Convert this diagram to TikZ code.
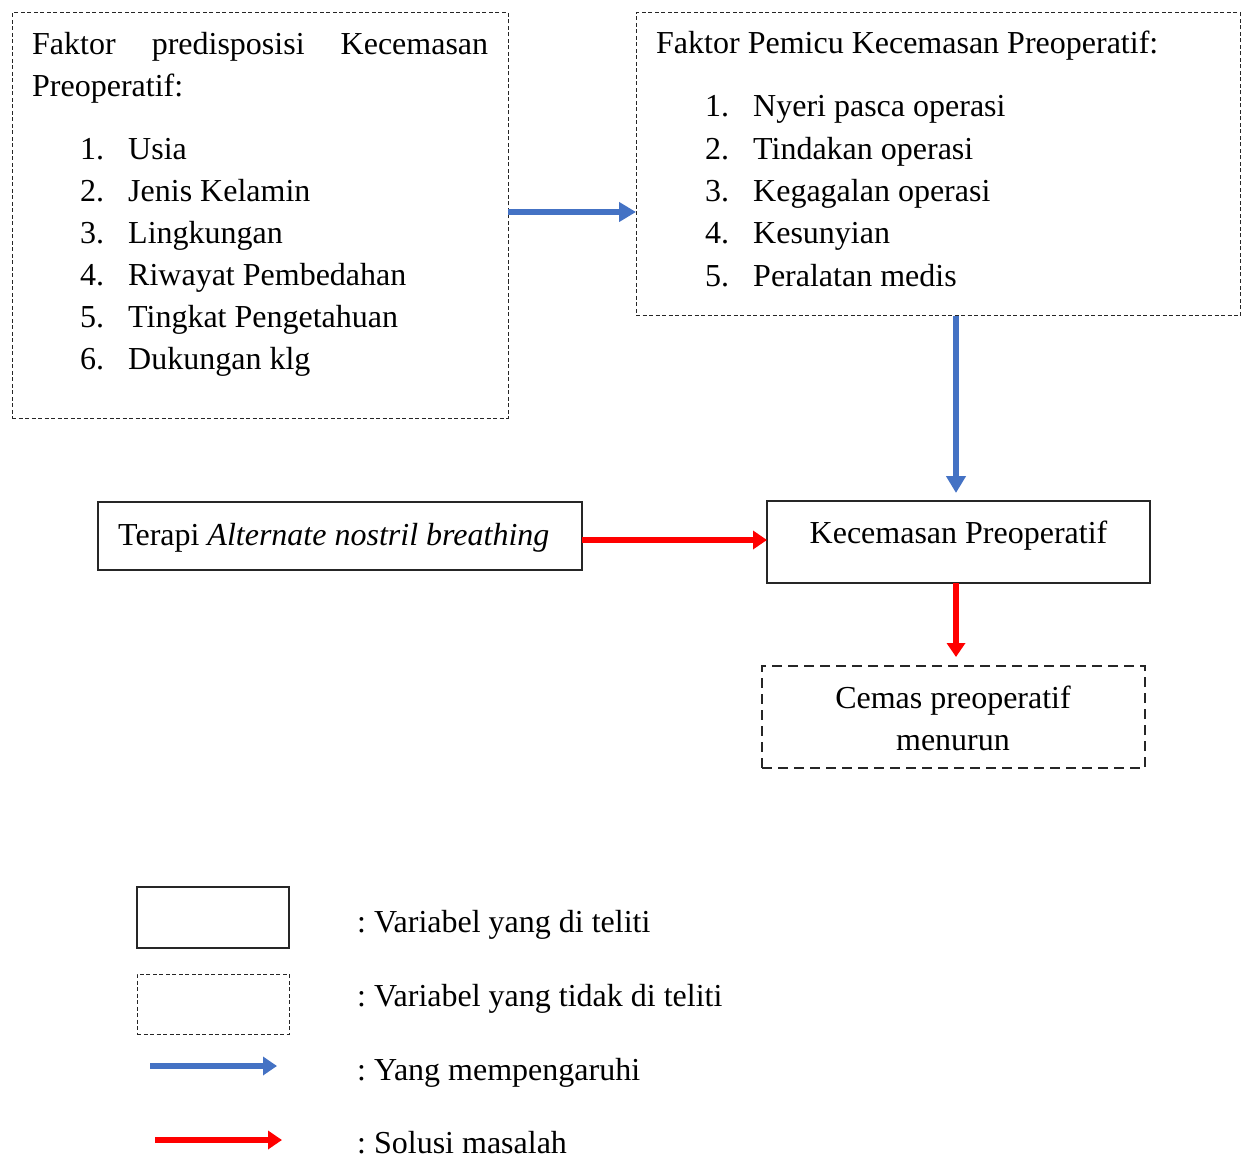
\documentclass[tikz,border=0pt]{standalone}
\usepackage{fontspec}
\setmainfont{Liberation Serif}
\usetikzlibrary{arrows.meta}
\definecolor{ablue}{HTML}{4472C4}
\definecolor{ared}{HTML}{FF0000}
\frenchspacing
\begin{document}
\begin{tikzpicture}[x=1pt,y=-1pt,font=\fontsize{32}{42}\selectfont\frenchspacing,
  box/.style={draw=black!85,line width=1.2pt,inner sep=0pt,outer sep=0pt,rectangle},
  dbox/.style={box,line width=1pt,dash pattern=on 4pt off 2.5pt},
  ddbox/.style={box,line width=2pt,dash pattern=on 10pt off 6pt},
  txt/.style={anchor=base west,inner sep=0pt},
  ctxt/.style={anchor=base,inner sep=0pt},
  barrow/.style={draw=ablue,line width=6pt,-{Triangle[length=17pt,width=19pt]}},
  rarrow/.style={draw=ared,line width=6pt,-{Triangle[length=14pt,width=18pt]}}]
\useasboundingbox (0,0) rectangle (1248,1158);
% boxes
\node[dbox,minimum width=496pt,minimum height=405pt] (b1) at (260,215.5) {};
\node[dbox,minimum width=604pt,minimum height=303pt] (b2) at (938,164.5) {};
\node[box,minimum width=484pt,minimum height=68pt] (b3) at (340,536) {};
\node[box,minimum width=383pt,minimum height=82pt] (b4) at (958.5,542) {};
\node[ddbox,minimum width=383pt,minimum height=102pt] (b5) at (953.5,717) {};
% box 1 text
\node[txt] (t1a) at (32,55) {\makebox[456pt][s]{Faktor predisposisi Kecemasan}};
\node[txt] (t1b) at (32,97) {Preoperatif:};
\node[txt] (n11) at (80,160) {1.}; \node[txt] (i11) at (128,160) {Usia};
\node[txt] (n12) at (80,202) {2.}; \node[txt] (i12) at (128,202) {Jenis Kelamin};
\node[txt] (n13) at (80,244) {3.}; \node[txt] (i13) at (128,244) {Lingkungan};
\node[txt] (n14) at (80,286) {4.}; \node[txt] (i14) at (128,286) {Riwayat Pembedahan};
\node[txt] (n15) at (80,328) {5.}; \node[txt] (i15) at (128,328) {Tingkat Pengetahuan};
\node[txt] (n16) at (80,370) {6.}; \node[txt] (i16) at (128,370) {Dukungan klg};
% box 2 text
\node[txt] (t2) at (656,54) {Faktor Pemicu Kecemasan Preoperatif:};
\node[txt] (n21) at (705,117) {1.}; \node[txt] (i21) at (753,117) {Nyeri pasca operasi};
\node[txt] (n22) at (705,160) {2.}; \node[txt] (i22) at (753,160) {Tindakan operasi};
\node[txt] (n23) at (705,202) {3.}; \node[txt] (i23) at (753,202) {Kegagalan operasi};
\node[txt] (n24) at (705,244) {4.}; \node[txt] (i24) at (753,244) {Kesunyian};
\node[txt] (n25) at (705,287) {5.}; \node[txt] (i25) at (753,287) {Peralatan medis};
% other texts
\node[txt] (t3) at (118,545) {Terapi \textit{Alternate nostril breathing}};
\node[ctxt] (t4) at (958.5,543) {Kecemasan Preoperatif};
\node[ctxt] (t5a) at (953,708) {Cemas preoperatif};
\node[ctxt] (t5b) at (953,750) {menurun};
% connectors
\draw[barrow] ([yshift=3.5pt]b1.east) -- ([yshift=3.5pt]b1.east -| b2.west);
\draw[barrow,shorten >=8pt] ([xshift=-2.5pt]b4.north |- b2.south) -- ([xshift=-2.5pt]b4.north);
\draw[rarrow] ([yshift=-4pt]b3.east) -- ([yshift=-4pt]b3.east -| b4.west);
\draw[rarrow,shorten >=9pt] ([xshift=-2.5pt]b4.south) -- ([xshift=-2.5pt]b4.south |- b5.north);
% legend
\node[box,minimum width=152pt,minimum height=61pt] (l1) at (213,917.5) {};
\node[dbox,minimum width=152pt,minimum height=60pt] (l2) at (213,1004) {};
\coordinate (la1) at (150,1066); \coordinate (la2) at (277,1066);
\coordinate (lb1) at (155,1140); \coordinate (lb2) at (282,1140);
\draw[draw=ablue,line width=6pt,-{Triangle[length=14pt,width=18pt]}] (la1) -- (la2);
\draw[draw=ared,line width=6pt,-{Triangle[length=14pt,width=18pt]}] (lb1) -- (lb2);
\node[txt] (k1) at (357,932) {: Variabel yang di teliti};
\node[txt] (k2) at (357,1006) {: Variabel yang tidak di teliti};
\node[txt] (k3) at (357,1080) {: Yang mempengaruhi};
\node[txt] (k4) at (357,1153) {: Solusi masalah};
\end{tikzpicture}
\end{document}
